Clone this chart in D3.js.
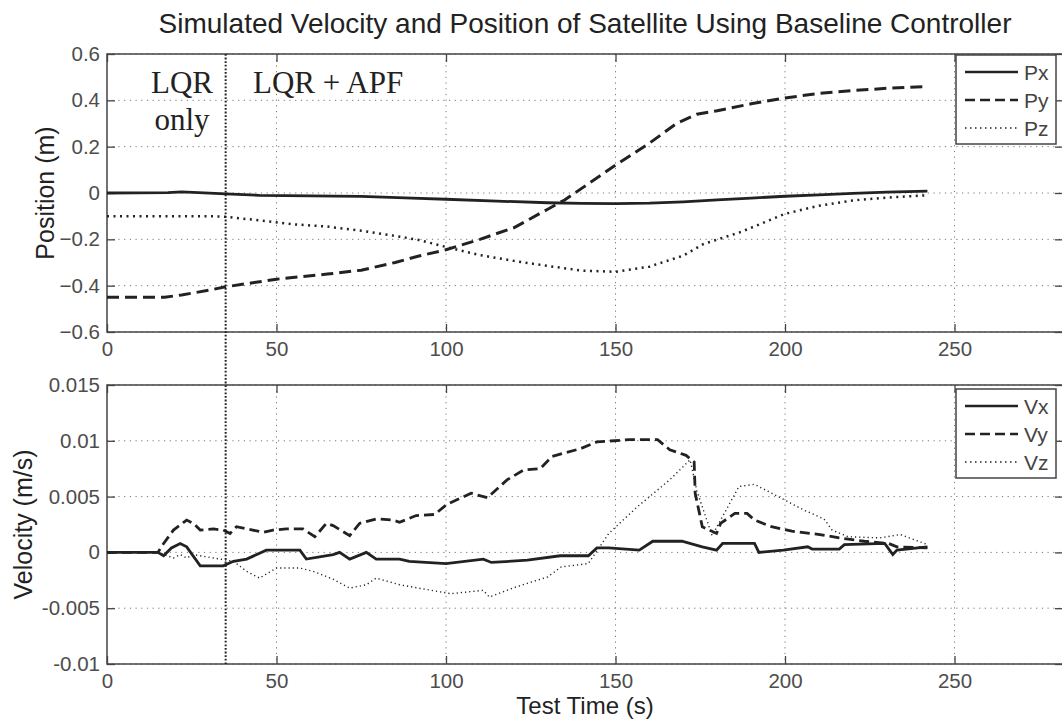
<!DOCTYPE html>
<html>
<head>
<meta charset="utf-8">
<script src="https://cdn.jsdelivr.net/npm/d3@7"></script>
<style>
  body { margin: 0; background: #fff; }
  svg { display: block; font-family: "Liberation Sans", Arial, sans-serif; }
</style>
</head>
<body>
<div id="chart"></div>
<script>
// data: [time (s), value]
const px = [[0,0],[18,0.002],[22,0.005],[27,0.002],[35,-0.004],[45,-0.01],[60,-0.012],[75,-0.015],[90,-0.022],[100,-0.027],[115,-0.035],[130,-0.042],[140,-0.045],[150,-0.046],[160,-0.044],[170,-0.038],[180,-0.03],[190,-0.022],[200,-0.014],[210,-0.008],[220,-0.002],[230,0.004],[242,0.008]];
const py = [[0,-0.45],[17,-0.45],[22,-0.44],[30,-0.42],[35,-0.405],[50,-0.372],[65,-0.35],[75,-0.333],[85,-0.3],[92,-0.272],[100,-0.245],[110,-0.2],[120,-0.15],[130,-0.07],[135,-0.03],[140,0.02],[150,0.12],[160,0.215],[168,0.3],[174,0.34],[180,0.355],[190,0.385],[200,0.41],[210,0.43],[220,0.442],[230,0.452],[242,0.46]];
const pz = [[0,-0.1],[30,-0.1],[35,-0.103],[45,-0.118],[55,-0.135],[65,-0.145],[75,-0.163],[85,-0.185],[92,-0.203],[100,-0.233],[110,-0.268],[120,-0.293],[130,-0.315],[140,-0.335],[150,-0.34],[160,-0.318],[170,-0.27],[176,-0.22],[187,-0.168],[195,-0.12],[200,-0.09],[210,-0.055],[220,-0.032],[230,-0.02],[242,-0.01]];

const vx = [[0,0],[15,0],[16.7,-0.0003],[19,0.0004],[21.6,0.0008],[23.5,0.0005],[27.5,-0.0012],[34.3,-0.0012],[37.3,-0.0008],[41.2,-0.0006],[47,0.0002],[56.9,0.0002],[58.8,-0.0006],[66.7,-0.0002],[68.6,0],[71.6,-0.0006],[76.5,0],[79.4,-0.0006],[86.3,-0.0006],[89.2,-0.0008],[100,-0.001],[111,-0.0006],[113.4,-0.0009],[124,-0.0007],[133.7,-0.0003],[142,-0.0003],[144.5,0.0004],[148,0.0004],[157,0.0002],[161,0.001],[169.6,0.001],[175.6,0.0005],[179.8,0.0002],[181.6,0.0008],[191,0.0008],[192.3,0.0],[199.5,0.0002],[206.7,0.0005],[208,0.0003],[216,0.0003],[217.5,0.0007],[229.4,0.0008],[231.8,-0.0002],[233,0.0002],[242,0.0005]];
const vy = [[0,0],[15,0],[16.7,0.0008],[19.6,0.002],[23.5,0.0029],[25.5,0.0026],[27.5,0.002],[31.4,0.0021],[34.3,0.002],[36.3,0.0017],[38.2,0.0023],[43,0.002],[46,0.0018],[49,0.002],[52.9,0.0021],[57.8,0.0021],[61.3,0.0014],[64.7,0.0026],[66.7,0.0024],[71.6,0.0015],[74.5,0.0026],[79.4,0.003],[84.3,0.0029],[86.3,0.0027],[91.2,0.0033],[96.7,0.0034],[100.2,0.0043],[107.4,0.0053],[112.2,0.0049],[118,0.0065],[123,0.0074],[127.8,0.0075],[131.3,0.0086],[139.7,0.0093],[144.5,0.0099],[154,0.0101],[162.4,0.0101],[166,0.0092],[170.8,0.0087],[173.2,0.0081],[173.5,0.0053],[175.6,0.0023],[179.8,0.0017],[181,0.0026],[185.2,0.0035],[188.8,0.0035],[191,0.0029],[196,0.0023],[202,0.0019],[210.3,0.0016],[216,0.0013],[223.4,0.001],[230.6,0.0008],[233,0.0005],[242,0.0004]];
const vz = [[0,0],[15,0],[19.6,-0.0005],[21.6,-0.0002],[23.5,-0.0005],[25.5,-0.0002],[31.4,-0.0005],[37.3,-0.0008],[41.2,-0.0017],[45,-0.0023],[50,-0.0014],[56.9,-0.0014],[60.8,-0.0017],[66.7,-0.0024],[71.6,-0.0032],[76.5,-0.0029],[79.4,-0.0023],[86.3,-0.0029],[91.9,-0.0032],[101.4,-0.0037],[111,-0.0034],[112.8,-0.004],[120.6,-0.0031],[130,-0.0022],[134,-0.0013],[142,-0.001],[148,0.0017],[156.5,0.0041],[166,0.0065],[172,0.0083],[174,0.0055],[178.5,0.0015],[186.4,0.0059],[191,0.0061],[198,0.005],[205.5,0.0038],[211.5,0.003],[213.9,0.002],[218.7,0.0014],[228,0.0013],[234,0.0016],[242,0.0007]];

const xTicks = [0, 50, 100, 150, 200, 250];
const posTicks = [-0.6, -0.4, -0.2, 0, 0.2, 0.4, 0.6];
const velTicks = [-0.01, -0.005, 0, 0.005, 0.01, 0.015];
const posNames = ["Px", "Py", "Pz"];
const velNames = ["Vx", "Vy", "Vz"];
const switchTime = 35; // LQR only -> LQR + APF

const width = 1062, height = 725;
const left = 107, right = 1063;

const svg = d3.select("#chart").append("svg")
    .attr("width", width)
    .attr("height", height);

const x = d3.scaleLinear().domain([0, 282]).range([left, right]);

const ink = "#222";

function panel(top, bottom, yDomain, yTicks, yFmt, series, names, yLabel, labelX, legendTop, st) {
    const y = d3.scaleLinear().domain(yDomain).range([bottom, top]);
    const g = svg.append("g");

    // grid
    g.append("g").selectAll("line").data(xTicks.slice(1)).join("line")
        .attr("x1", d => x(d)).attr("x2", d => x(d))
        .attr("y1", top).attr("y2", bottom)
        .attr("stroke", "#777").attr("stroke-dasharray", "1.2,4.5");
    g.append("g").selectAll("line").data(yTicks).join("line")
        .attr("x1", left).attr("x2", right)
        .attr("y1", d => y(d)).attr("y2", d => y(d))
        .attr("stroke", "#777").attr("stroke-dasharray", "1.2,4.5");

    // box
    g.append("rect")
        .attr("x", left).attr("y", top)
        .attr("width", right - left).attr("height", bottom - top)
        .attr("fill", "none").attr("stroke", "#444").attr("stroke-width", 1.5);

    // axes with inward ticks
    g.append("g").attr("transform", `translate(0,${bottom})`)
        .call(d3.axisBottom(x).tickValues(xTicks).tickSizeInner(-8).tickSizeOuter(0).tickPadding(9));
    g.append("g").attr("transform", `translate(0,${top})`)
        .call(d3.axisTop(x).tickValues(xTicks).tickSizeInner(-8).tickSizeOuter(0).tickFormat(""));
    g.append("g").attr("transform", `translate(${left},0)`)
        .call(d3.axisLeft(y).tickValues(yTicks).tickSizeInner(-8).tickSizeOuter(0).tickPadding(7).tickFormat(yFmt));
    g.append("g").attr("transform", `translate(${right},0)`)
        .call(d3.axisRight(y).tickValues(yTicks).tickSizeInner(-8).tickSizeOuter(0).tickFormat(""));
    g.selectAll(".domain").remove();
    g.selectAll(".tick line").attr("stroke", "#444").attr("stroke-width", 1.3);
    g.selectAll(".tick text").attr("font-size", 20.5).attr("fill", "#4d4d4d")
        .attr("font-family", "'Liberation Sans', Arial, sans-serif");

    // series
    const line = d3.line().x(d => x(d[0])).y(d => y(d[1]));
    series.forEach((s, i) => {
        g.append("path")
            .attr("d", line(s))
            .attr("fill", "none")
            .attr("stroke", ink)
            .attr("stroke-width", st[i].w)
            .attr("stroke-dasharray", st[i].dash);
    });

    // y label
    svg.append("text")
        .attr("transform", `translate(${labelX},${(top + bottom) / 2}) rotate(-90)`)
        .attr("text-anchor", "middle")
        .attr("dominant-baseline", "central")
        .attr("font-size", 25).attr("fill", ink)
        .text(yLabel);

    // legend
    const lg = g.append("g");
    lg.append("rect")
        .attr("x", 956).attr("y", legendTop)
        .attr("width", 100).attr("height", 89)
        .attr("fill", "#fff").attr("stroke", "#444").attr("stroke-width", 1.5);
    names.forEach((n, i) => {
        const ly = legendTop + 17 + i * 28;
        lg.append("line")
            .attr("x1", 965).attr("x2", 1018)
            .attr("y1", ly).attr("y2", ly)
            .attr("stroke", ink)
            .attr("stroke-width", i === 2 ? 1.5 : 2.6)
            .attr("stroke-dasharray", i === 1 ? "10,5" : i === 2 ? "1.5,3.5" : null);
        lg.append("text")
            .attr("x", 1024).attr("y", ly)
            .attr("dominant-baseline", "central")
            .attr("font-size", 21).attr("fill", "#444")
            .text(n);
    });

    return y;
}

const fmtPos = d => d === 0 ? "0" : d3.format(".1f")(d);
const fmtVel = d => d === 0 ? "0" : String(+d.toFixed(3));

panel(54, 332, [-0.6, 0.6], posTicks, fmtPos, [px, py, pz], posNames, "Position (m)", 45, 55,
    [{ dash: null, w: 2.8 }, { dash: "12,6", w: 3 }, { dash: "2,4.5", w: 2.5 }]);
panel(385, 664, [-0.01, 0.015], velTicks, fmtVel, [vx, vy, vz], velNames, "Velocity (m/s)", 23, 389,
    [{ dash: null, w: 2.8 }, { dash: "10,5", w: 2.8 }, { dash: "1.2,3", w: 1.4 }]);

// switch line across both panels
svg.append("line")
    .attr("x1", x(switchTime)).attr("x2", x(switchTime))
    .attr("y1", 54).attr("y2", 664)
    .attr("stroke", ink).attr("stroke-width", 2)
    .attr("stroke-dasharray", "1.8,1.8");

// region labels
const serif = "'Liberation Serif', 'Times New Roman', serif";
svg.append("text").attr("x", 182).attr("y", 93).attr("text-anchor", "middle")
    .attr("font-family", serif).attr("font-size", 31).attr("fill", ink).text("LQR");
svg.append("text").attr("x", 182).attr("y", 130).attr("text-anchor", "middle")
    .attr("font-family", serif).attr("font-size", 31).attr("fill", ink).text("only");
svg.append("text").attr("x", 253).attr("y", 93)
    .attr("font-family", serif).attr("font-size", 31).attr("fill", ink).text("LQR + APF");

// title and x label
svg.append("text").attr("x", (left + right) / 2).attr("y", 33).attr("text-anchor", "middle")
    .attr("font-size", 28).attr("fill", ink)
    .text("Simulated Velocity and Position of Satellite Using Baseline Controller");
svg.append("text").attr("x", (left + right) / 2).attr("y", 714).attr("text-anchor", "middle")
    .attr("font-size", 24).attr("fill", ink)
    .text("Test Time (s)");
</script>
</body>
</html>
